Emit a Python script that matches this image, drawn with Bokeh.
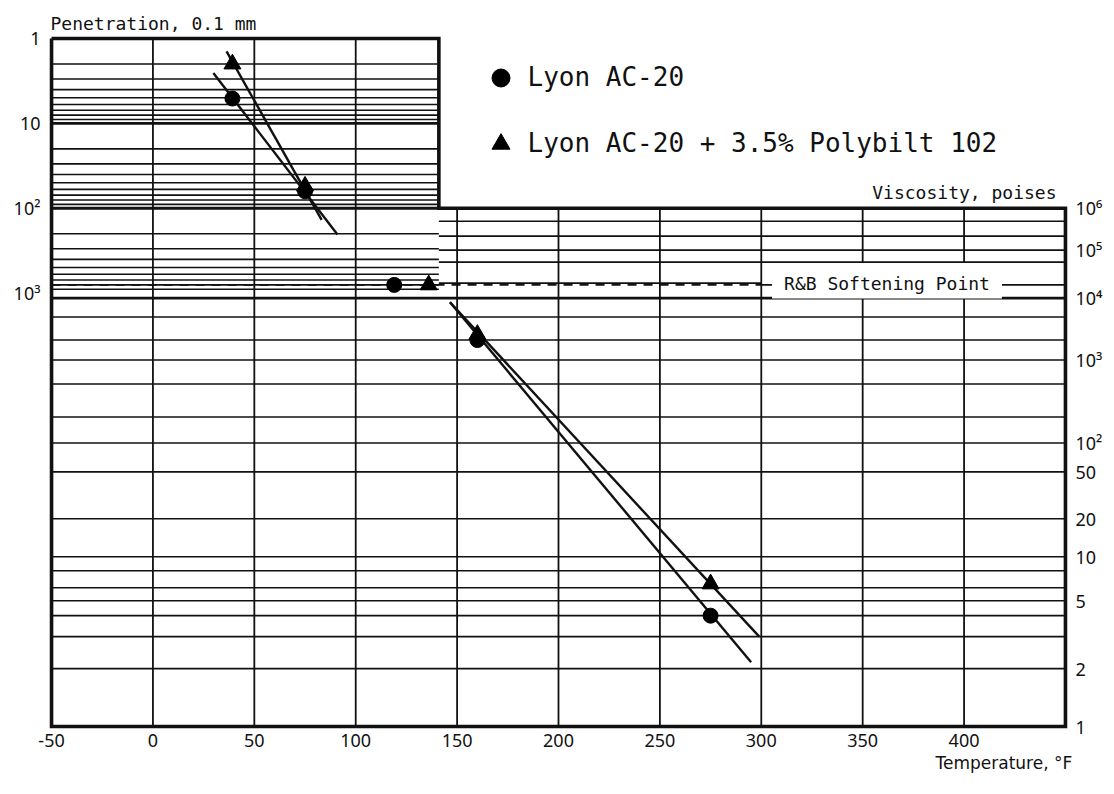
import numpy as np
from bokeh.plotting import figure
from bokeh.models import Range1d, LinearAxis, FixedTicker, Label, Legend, LegendItem, Title
from bokeh.core.properties import value
from bokeh.embed import file_html
from bokeh.resources import INLINE

# ---------------- data ----------------
# penetration (0.1 mm) at low temperatures
PEN_TEMP_F = [39.2, 75.0]
PEN_AC20 = [5.1, 63.0]
PEN_POLY = [2.0, 55.0]

# ring & ball softening points, plotted at penetration 800
SP_AC20_F = [119.0]
SP_POLY_F = [136.0]
SP_PEN = 800.0

# viscosity (poises) at high temperatures
VISC_TEMP_F = [160.0, 275.0]
VISC_AC20 = [2000.0, 4.0]
VISC_POLY = [2500.0, 6.4]

# hand drawn lines through the points (end points)
AC20_PEN_LINE_F = [29.8, 91.0]
AC20_PEN_LINE = [2.55, 204.0]
POLY_PEN_LINE_F = [36.3, 83.2]
POLY_PEN_LINE = [1.42, 137.0]
AC20_VISC_LINE_F = [146.5, 295.0]
AC20_VISC_LINE = [8600.0, 2.17]
POLY_VISC_LINE_F = [146.5, 299.0]
POLY_VISC_LINE = [8600.0, 3.0]

# ---------------- axes and grid ----------------
TEMP_TICKS = [-50, 0, 50, 100, 150, 200, 250, 300, 350, 400]
TEMP_TICK_LABELS = ["-50", "0", "50", "100", "150", "200", "250", "300", "350", "400"]
GRID_TEMPS = [0, 50, 100, 150, 200, 250, 300, 350, 400]
PEN_TICKS = [1, 10, 100, 1000]
PEN_TICK_LABELS = ["1", "10", "10²", "10³"]
VISC_TICKS = [1e6, 1e5, 1e4, 1e3, 100, 50, 20, 10, 5, 2, 1]
VISC_TICK_LABELS = ["10⁶", "10⁵", "10⁴", "10³", "10²", "50", "20", "10", "5", "2", "1"]
PEN_GRID = [2, 3, 4, 5, 6, 7, 8, 9, 20, 30, 40, 50, 60, 70, 80, 90,
            200, 300, 400, 500, 600, 700, 800, 900]
PEN_GRID_HEAVY = [10, 100]
VISC_GRID = [5e5, 2e5, 1e5, 5e4, 2e4, 1e4, 5e3, 2e3, 1e3, 500, 200, 100,
             50, 20, 10, 8, 6, 5, 4, 3, 2]
VISC_GRID_HEAVY = [1e4]

# chart outline
T_MIN, T_MAX = -50.0, 450.0
PEN_BOX_T_MAX = 141.0
PEN_TOP = 1.0
PEN_BOX_BOTTOM = 100.0
VISC_BOTTOM = 1.0
RB_BAND_VISC = (5e4, 1e4)
RB_BAND_T = 300.0
RB_LABEL_T = 362.0

# BTDC viscosity scale: position of each viscosity in penetration decades
VISC_SCALE_POISE = [1e6, 5e5, 2e5, 1e5, 5e4, 2e4, 1e4, 5e3, 2e3, 1e3, 500, 200,
                    100, 50, 20, 10, 8, 6, 5, 4, 3, 2, 1]
VISC_SCALE_POS = [2.000, 2.153, 2.329, 2.494, 2.635, 2.882, 3.059, 3.282, 3.553,
                  3.788, 4.071, 4.459, 4.765, 5.106, 5.659, 6.106, 6.271, 6.471,
                  6.624, 6.800, 7.047, 7.424, 8.106]


def pen_y(p):
    return np.log10(np.asarray(p, dtype=float))


def visc_y(v):
    lv = -np.log10(np.asarray(v, dtype=float))
    return np.interp(lv, -np.log10(np.asarray(VISC_SCALE_POISE)), VISC_SCALE_POS)


Y_TOP = float(pen_y(PEN_TOP))
Y_MID = float(pen_y(PEN_BOX_BOTTOM))
Y_BOT = float(visc_y(VISC_BOTTOM))
Y_RB = float(pen_y(SP_PEN))

INK = "#111111"
MONO = "DejaVu Sans Mono"
SANS = "Noto Sans"

p = figure(frame_width=1020, frame_height=694,
           x_range=Range1d(T_MIN - 1.5, T_MAX + 1.5),
           y_range=Range1d(Y_BOT + 0.035, Y_TOP - 0.035),
           y_axis_type=None, output_backend="svg", toolbar_location=None,
           min_border_left=48, min_border_right=38, min_border_top=35,
           min_border_bottom=57)
p.outline_line_color = None
p.grid.visible = False
p.background_fill_color = "white"
p.border_fill_color = "white"

# ---------- horizontal grid ----------
def hseg(x0, x1, ys, width):
    ys = np.atleast_1d(ys)
    p.segment(x0=[x0] * len(ys), x1=[x1] * len(ys), y0=ys, y1=ys,
              line_color=INK, line_width=width)

hseg(T_MIN, PEN_BOX_T_MAX, pen_y(PEN_GRID), 1.6)
hseg(T_MIN, PEN_BOX_T_MAX, pen_y(PEN_GRID_HEAVY), 2.8)

band_top, band_bot = float(visc_y(RB_BAND_VISC[0])), float(visc_y(RB_BAND_VISC[1]))
for v in VISC_GRID:
    y = float(visc_y(v))
    w = 2.8 if v in VISC_GRID_HEAVY else 1.6
    if v > 1e4:
        x1 = RB_BAND_T if band_top < y < band_bot else T_MAX
        hseg(PEN_BOX_T_MAX, x1, y, w)
    else:
        hseg(T_MIN, T_MAX, y, w)

# ---------- vertical grid ----------
vx, vy0, vy1 = [], [], []
for t in GRID_TEMPS:
    top = Y_TOP if t < PEN_BOX_T_MAX else Y_MID
    if t > RB_BAND_T:
        vx += [t, t]
        vy0 += [top, band_bot]
        vy1 += [band_top, Y_BOT]
    else:
        vx.append(t)
        vy0.append(top)
        vy1.append(Y_BOT)
p.segment(x0=vx, x1=vx, y0=vy0, y1=vy1, line_color=INK, line_width=1.8)

# ---------- R&B softening point line ----------
p.line([T_MIN, RB_BAND_T], [Y_RB, Y_RB], line_color=INK, line_width=1.6, line_dash="9 7")
p.line([RB_BAND_T, T_MAX], [Y_RB, Y_RB], line_color=INK, line_width=1.6)
p.text(x=[RB_LABEL_T], y=[Y_RB], text=["R&B Softening Point"],
       text_font=value(MONO), text_font_size="18px", text_color=INK,
       text_align="center", text_baseline="alphabetic",
       background_fill_color="white",
       padding=dict(left=12, right=12, top=2, bottom=4))

# ---------- outline ----------
p.line([T_MIN, PEN_BOX_T_MAX, PEN_BOX_T_MAX, T_MAX, T_MAX, T_MIN, T_MIN],
       [Y_TOP, Y_TOP, Y_MID, Y_MID, Y_BOT, Y_BOT, Y_TOP],
       line_color=INK, line_width=3.6, line_join="miter")

# ---------- data lines ----------
for xs, ys in [(AC20_PEN_LINE_F, pen_y(AC20_PEN_LINE)),
               (POLY_PEN_LINE_F, pen_y(POLY_PEN_LINE)),
               (AC20_VISC_LINE_F, visc_y(AC20_VISC_LINE)),
               (POLY_VISC_LINE_F, visc_y(POLY_VISC_LINE))]:
    p.line(xs, ys, line_color=INK, line_width=2.4)

# ---------- data points ----------
r_ac20 = p.scatter(PEN_TEMP_F, pen_y(PEN_AC20), marker="circle", size=15, color="black")
r_poly = p.scatter(PEN_TEMP_F, pen_y(PEN_POLY), marker="triangle", size=17, color="black")
p.scatter(SP_AC20_F, [Y_RB] * len(SP_AC20_F), marker="circle", size=15, color="black")
p.scatter(SP_POLY_F, [Y_RB] * len(SP_POLY_F), marker="triangle", size=17, color="black")
p.scatter(VISC_TEMP_F, visc_y(VISC_AC20), marker="circle", size=15, color="black")
p.scatter(VISC_TEMP_F, visc_y(VISC_POLY), marker="triangle", size=17, color="black")

# ---------- axes ----------
xa = p.xaxis[0]
xa.ticker = FixedTicker(ticks=TEMP_TICKS)
xa.major_label_overrides = {t: s for t, s in zip(TEMP_TICKS, TEMP_TICK_LABELS)}
left = LinearAxis(ticker=FixedTicker(ticks=[float(v) for v in pen_y(PEN_TICKS)]),
                  major_label_overrides={float(k): s for k, s in zip(pen_y(PEN_TICKS), PEN_TICK_LABELS)})
vt = [round(float(v), 4) for v in visc_y(VISC_TICKS)]
right = LinearAxis(ticker=FixedTicker(ticks=vt),
                   major_label_overrides={k: s for k, s in zip(vt, VISC_TICK_LABELS)})
p.add_layout(left, "left")
p.add_layout(right, "right")
for ax, so in ((xa, 4), (left, 8), (right, 7)):
    ax.axis_line_color = None
    ax.major_tick_line_color = None
    ax.minor_tick_line_color = None
    ax.major_tick_out = 0
    ax.major_tick_in = 0
    ax.major_label_standoff = so
    ax.major_label_text_font = SANS
    ax.major_label_text_font_size = "18px"
    ax.major_label_text_color = INK

# ---------- titles ----------
p.add_layout(Title(text="Penetration, 0.1 mm", align="left", offset=2, standoff=3,
                   text_font=MONO, text_font_size="18px", text_font_style="normal",
                   text_color=INK), "above")
p.add_layout(Title(text="Temperature, °F", align="left", offset=887, standoff=2,
                   text_font="DejaVu Sans", text_font_size="17px", text_font_style="normal",
                   text_color=INK), "below")
p.add_layout(Label(x=1008, y=537, x_units="screen", y_units="screen",
                   text="Viscosity, poises", text_font=MONO, text_font_size="18px",
                   text_color=INK, text_baseline="middle", text_align="right"))

# ---------- legend ----------
legend = Legend(items=[LegendItem(label="Lyon AC-20", renderers=[r_ac20]),
                       LegendItem(label="Lyon AC-20 + 3.5% Polybilt 102", renderers=[r_poly])],
                location=(429.5, 563.5), glyph_width=45, glyph_height=45,
                label_standoff=5, spacing=21, padding=0, margin=0,
                border_line_color=None, background_fill_alpha=0,
                label_text_font=MONO, label_text_font_size="26px", label_text_color=INK)
p.add_layout(legend)

open("out.html", "w").write(file_html(p, INLINE))
